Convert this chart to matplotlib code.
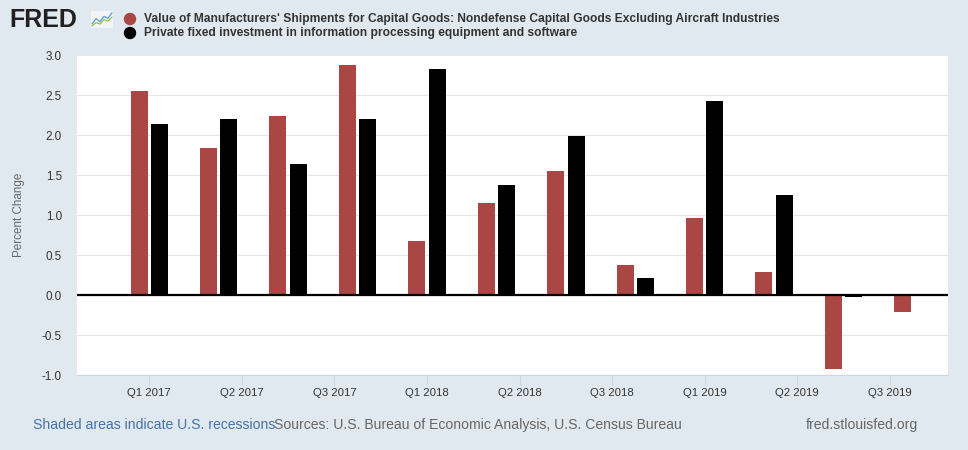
import matplotlib
matplotlib.use("Agg")
import matplotlib.pyplot as plt
import numpy as np

# quarterly percent change, Q1 2017 .. Q4 2019
quarters = ["Q1 2017", "Q2 2017", "Q3 2017", "Q4 2017",
            "Q1 2018", "Q2 2018", "Q3 2018", "Q4 2018",
            "Q1 2019", "Q2 2019", "Q3 2019", "Q4 2019"]
shipments = [2.55, 1.84, 2.24, 2.87, 0.67, 1.15, 1.55, 0.38, 0.96, 0.29, -0.93, -0.21]
info_invest = [2.14, 2.20, 1.64, 2.20, 2.83, 1.37, 1.99, 0.21, 2.43, 1.25, -0.03, np.nan]

# time axis ticks every 4 months (in months since Jan 2017)
tick_months = [0, 4, 8, 12, 16, 20, 24, 28, 32]
tick_labels = ["Q1 2017", "Q2 2017", "Q3 2017", "Q1 2018", "Q2 2018",
               "Q3 2018", "Q1 2019", "Q2 2019", "Q3 2019"]

name_ship = ("Value of Manufacturers' Shipments for Capital Goods: "
             "Nondefense Capital Goods Excluding Aircraft Industries")
name_info = "Private fixed investment in information processing equipment and software"

BG = "#e1e9f0"
RED = "#aa4643"
FONT = ["Liberation Sans", "DejaVu Sans"]
plt.rcParams["font.family"] = FONT

fig = plt.figure(figsize=(9.68, 4.5), dpi=100, facecolor=BG)
ax = fig.add_axes([77 / 968, 1 - 375 / 450, (948 - 77) / 968, (375 - 55) / 450])
ax.set_facecolor("white")

x = np.arange(len(quarters)) * 3.0
w = 0.734
off = 0.44
ax.bar(x - off, shipments, width=w, color=RED, zorder=3)
ax.bar(x + off, info_invest, width=w, color="black", zorder=3)
ax.axhline(0, color="black", linewidth=1.6, zorder=4)

ax.set_xlim(-3.12, 34.51)
ax.set_ylim(-1.0, 3.0)
yt = np.arange(-1.0, 3.01, 0.5)
ax.set_yticks(yt)
ax.set_yticklabels([f"{v:.1f}" for v in yt])
ax.grid(axis="y", color="#e6e6e6", linewidth=0.8, zorder=0)
ax.set_axisbelow(True)

ax.set_xticks(tick_months)
ax.set_xticklabels(tick_labels)
ax.tick_params(axis="x", length=7.2, width=0.8, color="#ccd6eb", labelsize=8.2,
               labelcolor="#333333", pad=2)
ax.tick_params(axis="y", length=0, labelsize=8.4, labelcolor="#333333", pad=10.8)

for s in ["top", "right", "left"]:
    ax.spines[s].set_visible(False)
ax.spines["bottom"].set_color("#ccd6eb")
ax.spines["bottom"].set_linewidth(0.8)

fig.text(19 / 968, 1 - 215 / 450, "Percent Change", rotation=90, ha="center",
         va="center", fontsize=8.4, color="#666666")

# header: logo and legend
fig.text(9 / 968, 1 - 20 / 450, "FRED", fontsize=18, fontweight="heavy",
         color="#231f20", ha="left", va="center")
icon = fig.add_axes([91 / 968, 1 - 28 / 450, 22 / 968, 17 / 450])
icon.set_facecolor("#f2f4f5")
icon.plot([0, 1, 2, 3, 4, 5], [1, 2.5, 1.6, 3.2, 2.6, 4.2], color="#5b9bd5", lw=0.9)
icon.plot([0, 1, 2, 3, 4, 5], [0.4, 1.3, 0.9, 2.2, 1.8, 2.9], color="#8cc63f", lw=0.9)
icon.set_xlim(-0.3, 5.3)
icon.set_ylim(-0.3, 4.8)
icon.set_xticks([])
icon.set_yticks([])
for s in icon.spines.values():
    s.set_visible(False)

fig.patches.append(matplotlib.patches.Ellipse((130 / 968, 1 - 19 / 450), 11 / 968, 11 / 450,
                                              transform=fig.transFigure, color=RED))
fig.patches.append(matplotlib.patches.Ellipse((130 / 968, 1 - 33 / 450), 11 / 968, 11 / 450,
                                              transform=fig.transFigure, color="black"))
fig.text(144 / 968, 1 - 19 / 450, name_ship, fontsize=8.65, fontweight="bold",
         color="#333333", ha="left", va="center")
fig.text(144 / 968, 1 - 33 / 450, name_info, fontsize=8.65, fontweight="bold",
         color="#333333", ha="left", va="center")

# footer
fig.text(33 / 968, 1 - 425 / 450, "Shaded areas indicate U.S. recessions", fontsize=10.1,
         color="#4572a7", ha="left", va="center")
fig.text(274 / 968, 1 - 425 / 450,
         "Sources: U.S. Bureau of Economic Analysis, U.S. Census Bureau", fontsize=10.1,
         color="#666666", ha="left", va="center")
fig.text(806 / 968, 1 - 425 / 450, "fred.stlouisfed.org", fontsize=10.1,
         color="#666666", ha="left", va="center")

fig.savefig("out.png", dpi=100, facecolor=BG)
